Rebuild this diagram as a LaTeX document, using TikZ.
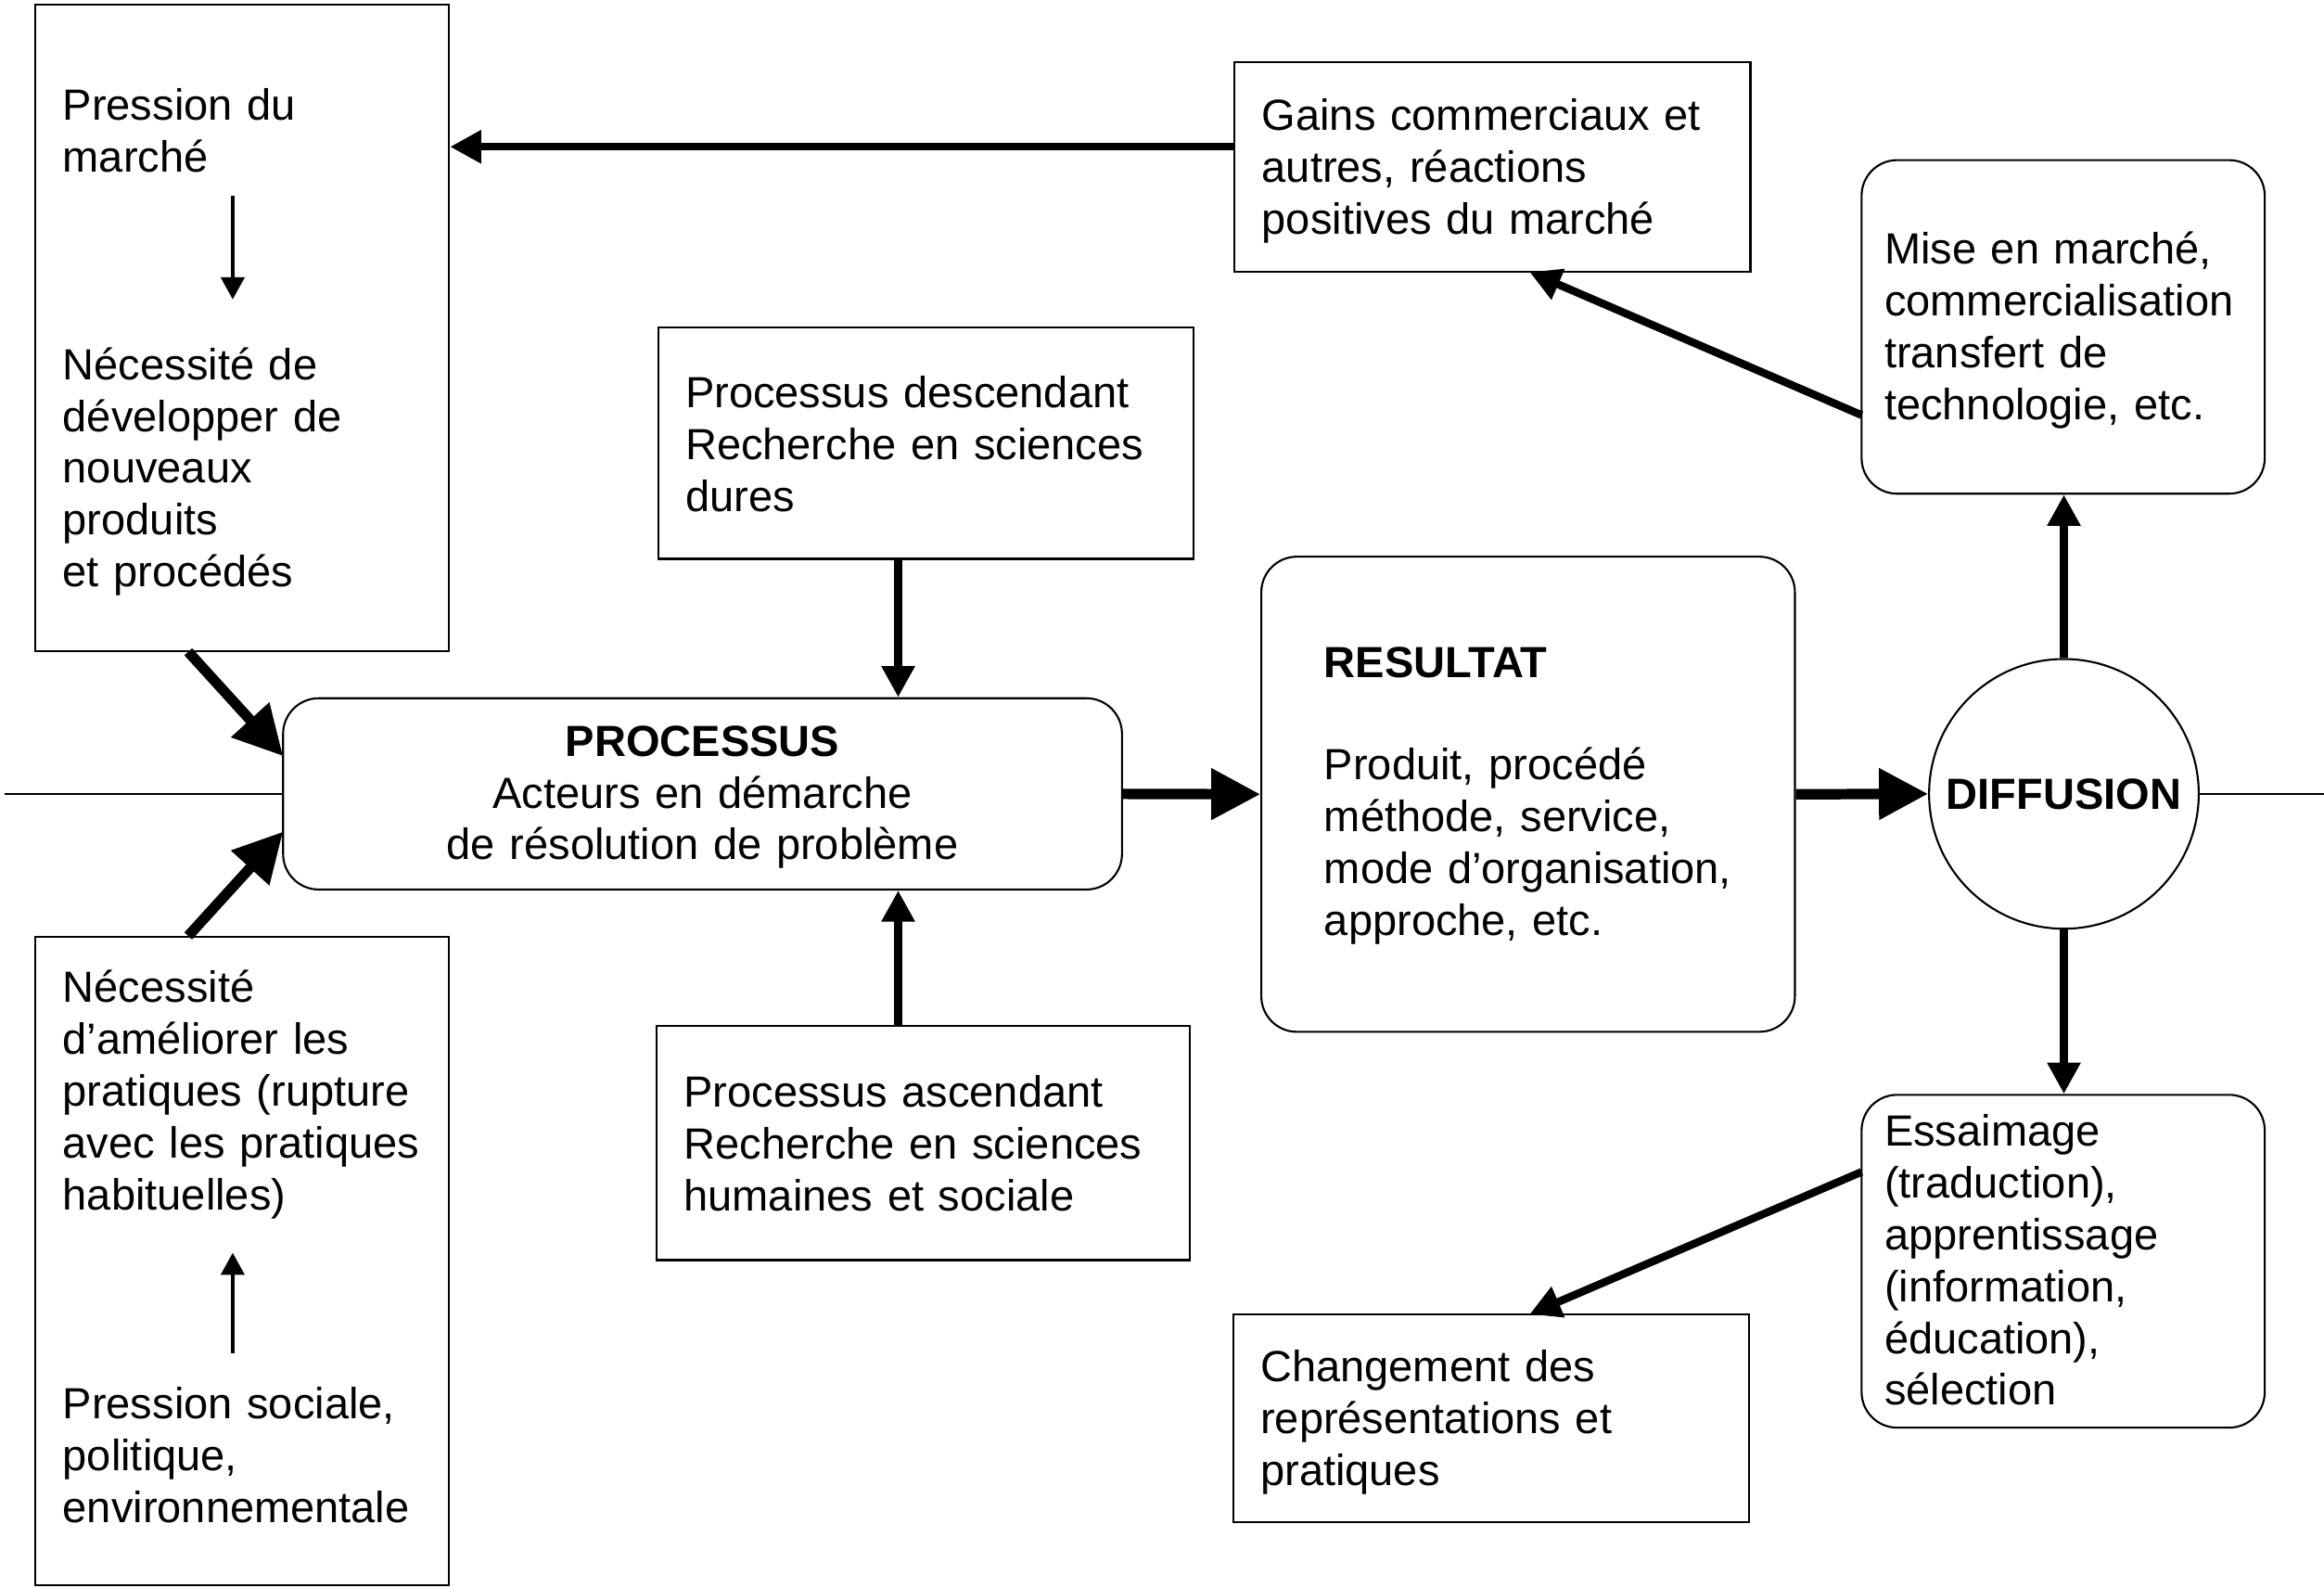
\documentclass[tikz,border=0pt]{standalone}
\usepackage{fontspec}
\setmainfont{Liberation Sans}
\usetikzlibrary{arrows.meta,fit}
\begin{document}
\begin{tikzpicture}[x=0.016cm,y=-0.016cm,
  box/.style={draw,line width=0.6pt,inner sep=0pt},
  rbox/.style={box,rounded corners=0.384cm},
  txt/.style={font=\fontsize{13.4}{15.93}\selectfont,inner sep=0pt,align=left,text width=6cm,anchor=base west},
  ctxt/.style={font=\fontsize{13.4}{15.93}\selectfont,inner sep=0pt,align=center,text width=8cm,anchor=base},
  arrS/.style={line width=2.4pt,-{Triangle[length=0.336cm,width=0.34cm]}},
  arrB/.style={line width=3.2pt,-{Triangle[length=0.53cm,width=0.53cm]}},
  arrT/.style={line width=1.3pt,-{Triangle[length=0.24cm,width=0.25cm]}},
  thinline/.style={line width=0.6pt}]
\useasboundingbox (0,0) rectangle (1568,1071);

% boxes
\node[box, fit={(24,3) (303,439)}] (A) {};
\node[box, fit={(24,632) (303,1069.5)}] (B) {};
\node[box, fit={(833,42) (1181,183.5)}] (gains) {};
\node[rbox, fit={(1256,108) (1528,333)}] (mise) {};
\node[box, fit={(444,221) (805,377)}] (desc) {};
\node[rbox, fit={(191,471) (757,600)}] (proc) {};
\node[rbox, fit={(851,375.5) (1211,696)}] (res) {};
\node[draw, circle, line width=0.6pt, inner sep=0pt, minimum size=2.912cm,
      font=\fontsize{13.4}{15.93}\selectfont\bfseries] (diff) at (1392.5,535.5) {DIFFUSION};
\node[box, fit={(443,692) (803,850)}] (asc) {};
\node[rbox, fit={(1256,738.5) (1528,963)}] (ess) {};
\node[box, fit={(832,886.5) (1180,1027)}] (chg) {};

% texts
\node[txt] (tA1) at (42,81) {Pression du\\marché};
\node[txt] (tA2) at (42,256) {Nécessité de\\développer de\\nouveaux\\produits\\et procédés};
\node[txt] (tB1) at (42,676) {Nécessité\\d’améliorer les\\pratiques (rupture\\avec les pratiques\\habituelles)};
\node[txt] (tB2) at (42,957) {Pression sociale,\\politique,\\environnementale};
\node[txt] (tG) at (851,88) {Gains commerciaux et\\autres, réactions\\positives du marché};
\node[txt] (tM) at (1271,178) {Mise en marché,\\commercialisation\\transfert de\\technologie, etc.};
\node[txt] (tD) at (462,275) {Processus descendant\\Recherche en sciences\\dures};
\node[ctxt] (tP) at (474,510) {\textbf{PROCESSUS}\\Acteurs en démarche\\de résolution de problème};
\node[txt] (tR1) at (893,457) {\textbf{RESULTAT}};
\node[txt] (tR2) at (893,526) {Produit, procédé\\méthode, service,\\mode d’organisation,\\approche, etc.};
\node[txt] (tAs) at (461,747) {Processus ascendant\\Recherche en sciences\\humaines et sociale};
\node[txt] (tE) at (1271,773) {Essaimage\\(traduction),\\apprentissage\\(information,\\éducation),\\sélection};
\node[txt] (tC) at (850,932) {Changement des\\représentations et\\pratiques};

% helper coordinates
\coordinate (g1) at (833,99);
\coordinate (m1) at (1256,280);
\coordinate (m2) at (1032,183.5);
\coordinate (v1) at (606,0);
\coordinate (d1) at (127,0);
\coordinate (p1) at (191,510);
\coordinate (p2) at (191,561);
\coordinate (e1) at (1256,790.5);
\coordinate (c1) at (1032,886.5);
\coordinate (lft) at (3,535.5);
\coordinate (rgt) at (1568,535.5);
\coordinate (a1) at (157,132);
\coordinate (a2) at (157,202);
\coordinate (b1) at (157,913);
\coordinate (b2) at (157,845);

% connectors
\draw[arrS] (gains.west |- g1) -- (A.east |- g1);
\draw[arrS] (m1) -- (m2);
\draw[arrS] (desc.south -| v1) -- (proc.north -| v1);
\draw[arrS] (asc.north -| v1) -- (proc.south -| v1);
\draw[arrB] (A.south -| d1) -- (p1);
\draw[arrB] (B.north -| d1) -- (p2);
\draw[arrB] (proc.east) -- (res.west);
\draw[arrB] (res.east) -- (diff.west);
\draw[arrS] (diff.north) -- (mise.south -| diff.north);
\draw[arrS] (diff.south) -- (ess.north -| diff.south);
\draw[arrS] (e1) -- (c1);
\draw[thinline] (lft) -- (proc.west);
\draw[thinline] (diff.east) -- (rgt);
\draw[arrT] (a1) -- (a2);
\draw[arrT] (b1) -- (b2);
\end{tikzpicture}
\end{document}
